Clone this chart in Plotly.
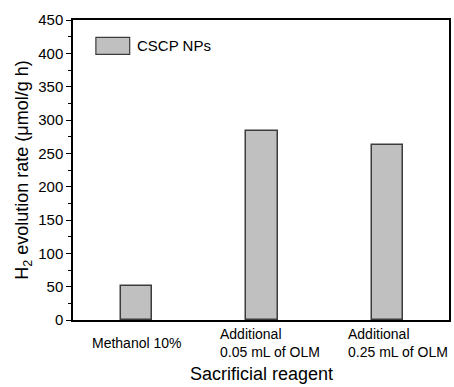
import plotly.graph_objects as go

# Photocatalytic H2 evolution for CSCP NPs under different sacrificial reagents
categories = ["Methanol 10%", "Additional<br>0.05 mL of OLM", "Additional<br>0.25 mL of OLM"]
h2_rate = [51, 284, 262]
series_name = "CSCP NPs"
y_ticks = [0, 50, 100, 150, 200, 250, 300, 350, 400, 450]
x_title = "Sacrificial reagent"
y_title = "H<sub>2</sub> evolution rate (μmol/g h)"

FONT = "Liberation Sans, Arial, sans-serif"
xs = list(range(len(categories)))
label_shift = [0, 8, 11]

fig = go.Figure()
fig.add_trace(go.Bar(
    x=xs, y=h2_rate, width=0.25, name=series_name,
    marker=dict(color="#c0c0c0", line=dict(color="#3c3c3c", width=1.5)),
    showlegend=False,
))

# Category labels, left-aligned multi-line text beneath each bar
for x, label, dx in zip(xs, categories, label_shift):
    fig.add_annotation(
        x=x, xref="x", y=-0.076, yref="paper", text=label, showarrow=False,
        align="left", xanchor="center", yanchor="middle", xshift=dx,
        font=dict(family=FONT, size=14, color="#000"),
    )

# X axis title
fig.add_annotation(xref="paper", yref="paper", x=0.5, y=-0.18, text=x_title,
                   showarrow=False, xanchor="center", yanchor="middle",
                   font=dict(family=FONT, size=18, color="#000"))

# Legend swatch and label
fig.add_shape(type="rect", xref="paper", yref="paper",
              x0=(96 - 73) / 378, x1=(130 - 73) / 378,
              y0=(320 - 54) / 300.5, y1=(320 - 37) / 300.5,
              fillcolor="#c0c0c0", line=dict(color="#3c3c3c", width=1.2))
fig.add_annotation(xref="paper", yref="paper", x=(135 - 73) / 378,
                   y=(320 - 45.5) / 300.5, text=series_name, showarrow=False,
                   xanchor="left", yanchor="middle",
                   font=dict(family=FONT, size=15, color="#000"))

fig.update_layout(
    width=454, height=387,
    margin=dict(l=73, r=3, t=19.5, b=67),
    paper_bgcolor="white", plot_bgcolor="white",
    font=dict(family=FONT, color="#000"),
    bargap=0,
)
fig.update_xaxes(
    range=[-0.508, 2.492], showticklabels=False, ticks="",
    showline=True, linecolor="#000", linewidth=1.5, mirror=True,
    showgrid=False, zeroline=False,
)
fig.update_yaxes(
    range=[0, 450], tickvals=y_ticks, ticks="outside", ticklen=5,
    tickwidth=1.2, tickcolor="#000", tickfont=dict(size=15),
    minor=dict(dtick=25, ticks="outside", ticklen=3, tickwidth=1, tickcolor="#000"),
    showline=True, linecolor="#000", linewidth=1.5, mirror=True,
    showgrid=False, zeroline=False,
    title=dict(text=y_title, font=dict(size=18), standoff=5),
)

fig.write_html("out.html")
